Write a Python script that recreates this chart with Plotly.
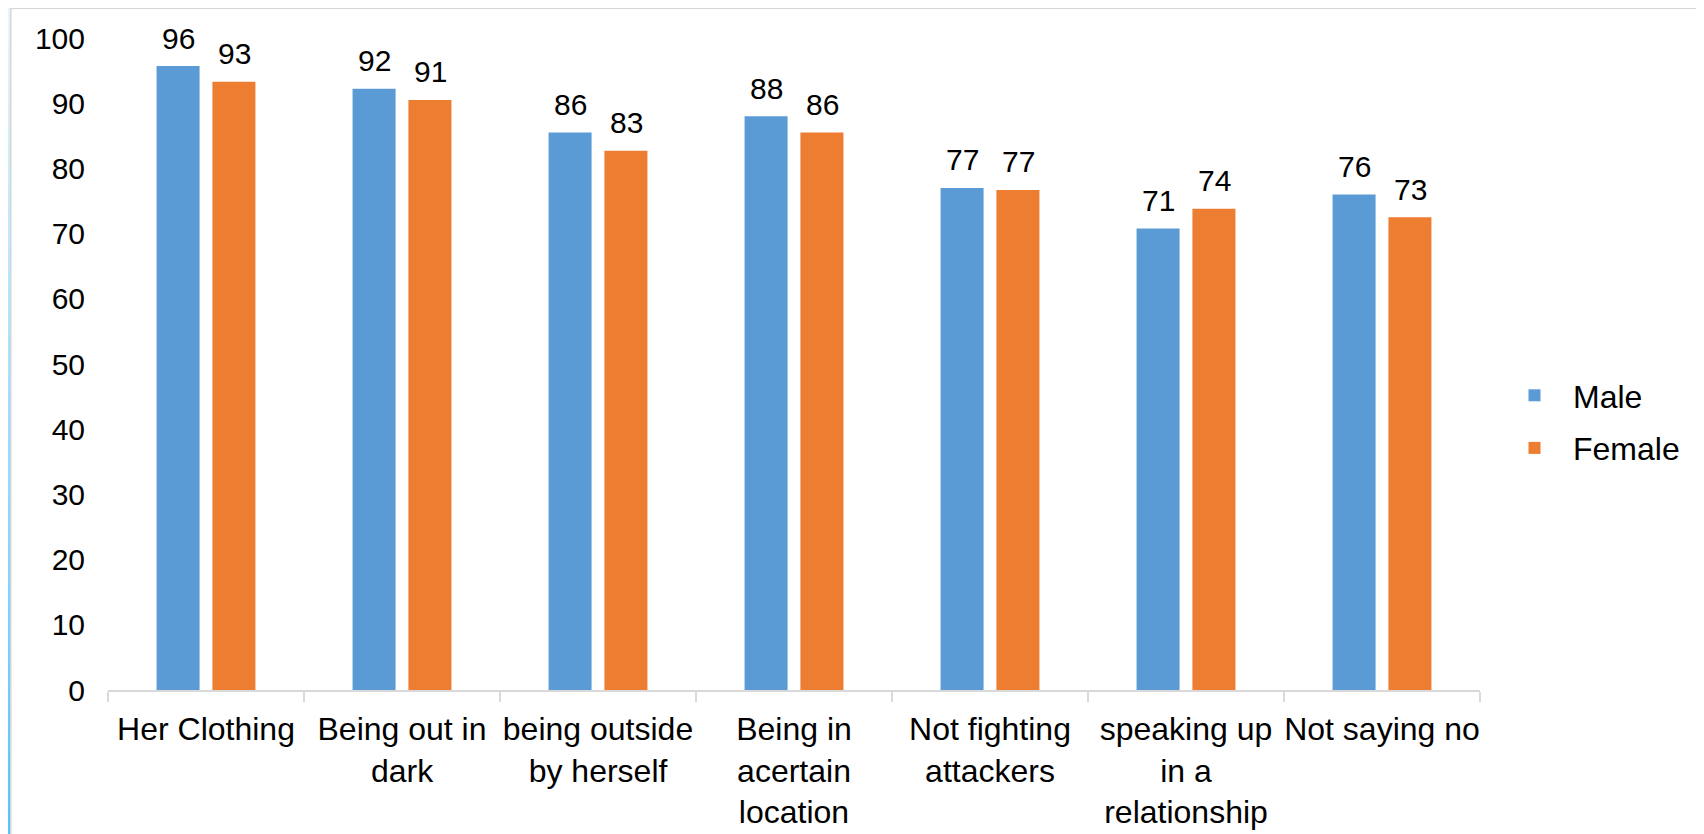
import plotly.graph_objects as go

categories = ["Her Clothing", "Being out in<br>dark", "being outside<br>by herself",
              "Being in<br>acertain<br>location", "Not fighting<br>attackers",
              "speaking up<br>in a<br>relationship", "Not saying no"]
male = [95.7, 92.2, 85.5, 88.0, 77.0, 70.8, 76.0]
female = [93.3, 90.5, 82.7, 85.5, 76.7, 73.8, 72.5]
male_labels = [96, 92, 86, 88, 77, 71, 76]
female_labels = [93, 91, 83, 86, 77, 74, 73]
y_ticks = list(range(0, 101, 10))

# page has an 8px body margin; figure fills the rest of the window
OFF = 8
W, H = 1704 - OFF, 834 - OFF
L, R, T, B = 100, 224, 30, 144
pw, ph = W - L - R, H - T - B


def px(x):
    return (x - OFF - L) / pw


def py(y):
    return (H - B - (y - OFF)) / ph


FONT = "Liberation Sans, Arial, sans-serif"
BLUE = "#5b9bd5"
ORANGE = "#ed7d31"

fig = go.Figure()
fig.add_trace(go.Bar(x=categories, y=male, name="Male", marker_color=BLUE,
                     marker_line_width=0, legendgroup="m"))
fig.add_trace(go.Bar(x=categories, y=female, name="Female", marker_color=ORANGE,
                     marker_line_width=0, legendgroup="f"))

annotations = []
for c, v, lab in zip(categories, male, male_labels):
    annotations.append(dict(x=c, y=v, text=str(lab), showarrow=False, xshift=-28,
                            yshift=28, yanchor="middle",
                            font=dict(size=30, color="black", family=FONT)))
for c, v, lab in zip(categories, female, female_labels):
    annotations.append(dict(x=c, y=v, text=str(lab), showarrow=False, xshift=28,
                            yshift=28, yanchor="middle",
                            font=dict(size=30, color="black", family=FONT)))

shapes = []
# visible remnants of the slide frame (left gradient strip and borders)
n = 40
c0 = (0xe8, 0xf4, 0xfd)
c1 = (0x56, 0xc5, 0xfc)
for i in range(n):
    t = i / (n - 1)
    col = "rgb(%d,%d,%d)" % tuple(round(a + (b - a) * t) for a, b in zip(c0, c1))
    y0 = 834 * i / n
    y1 = min(834 * (i + 1) / n + 1, 834)
    shapes.append(dict(type="rect", xref="paper", yref="paper", x0=px(OFF), x1=px(10),
                       y0=py(y1), y1=py(max(y0, OFF)), fillcolor=col, line_width=0, layer="below"))
shapes.append(dict(type="rect", xref="paper", yref="paper", x0=px(10), x1=px(11.5),
                   y0=py(834), y1=py(OFF), fillcolor="#d6d6d6", line_width=0, layer="below"))
shapes.append(dict(type="rect", xref="paper", yref="paper", x0=px(10), x1=px(1704),
                   y0=py(9), y1=py(OFF), fillcolor="#d6d6d6", line_width=0, layer="below"))

fig.update_layout(
    width=W, height=H,
    margin=dict(l=L, r=R, t=T, b=B, autoexpand=False),
    paper_bgcolor="white", plot_bgcolor="white",
    font=dict(family=FONT, size=30, color="black"),
    barmode="group", bargap=0.43, bargroupgap=0.23,
    showlegend=True,
    legend=dict(x=px(1496), y=py(422), xanchor="left", yanchor="middle",
                font=dict(size=32, family=FONT, color="black"), itemwidth=67,
                traceorder="grouped", tracegroupgap=8, bgcolor="rgba(0,0,0,0)"),
    xaxis=dict(showline=True, linecolor="#d9d9d9", linewidth=1.5, ticks="outside",
               tickson="boundaries", ticklen=10, tickcolor="#d9d9d9", tickwidth=1.5,
               showgrid=False, ticklabelstandoff=10, tickangle=0,
               tickfont=dict(size=32, family=FONT, color="black")),
    yaxis=dict(range=[0, 100], tickvals=y_ticks, showline=False, showgrid=False,
               zeroline=False, ticklabelstandoff=22,
               tickfont=dict(size=30, family=FONT, color="black")),
    annotations=annotations, shapes=shapes,
)

fig.write_html("out.html")
